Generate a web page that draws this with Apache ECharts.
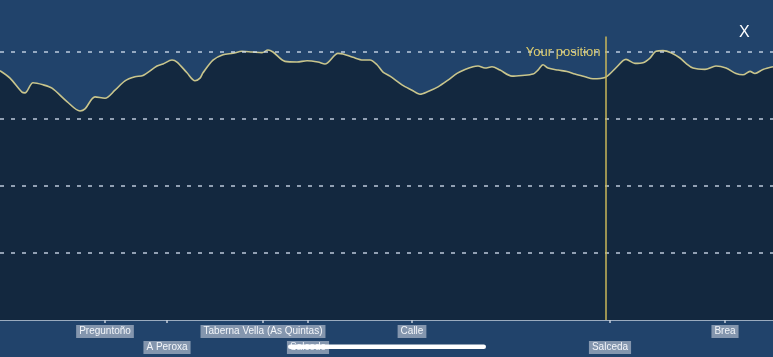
<!DOCTYPE html>
<html>
<head>
<meta charset="utf-8">
<script src="https://cdn.jsdelivr.net/npm/echarts@6/dist/echarts.min.js"></script>
<style>
html,body{margin:0;padding:0;background:#21436b;}
#c{width:773px;height:357px;}
</style>
</head>
<body>
<div id="c"></div>
<script>
// distance along route (km) and elevation (m)
const distances = [0, 1.0, 2.2, 2.5, 3.3, 4.3, 5.2, 6.7, 8.0, 8.5, 9.5, 10.5, 11.5, 12.5, 13.5, 14.3, 15.7, 16.3, 17.2, 17.7, 18.7, 19.5, 20.0, 20.3, 21.3, 22.3, 23.3, 24.2, 25.2, 26.2, 26.8, 27.3, 28.5, 29.7, 30.7, 31.8, 32.5, 33.8, 34.3, 35.3, 36.3, 37.0, 37.7, 38.3, 39.0, 40.2, 41.2, 42.0, 42.8, 43.8, 44.8, 45.7, 46.5, 47.3, 47.8, 48.5, 49.2, 50.0, 51.2, 52.2, 53.3, 53.8, 54.3, 54.8, 55.8, 56.7, 57.5, 58.5, 59.3, 60.5, 61.3, 62.3, 62.6, 63.5, 64.3, 65.0, 65.6, 66.3, 67.1, 68.0, 68.6, 69.3, 70.5, 71.6, 72.6, 73.6, 74.3, 75.0, 75.5, 76.3, 77.3];
const elevations = [372, 361, 340, 339, 354, 351, 346, 326, 312, 315, 333, 331, 343, 357, 363, 365, 379, 382, 388, 385, 369, 357, 361, 369, 388, 396, 398, 401, 400, 399, 403, 400, 386, 385, 387, 385, 382, 398, 397, 392, 388, 388, 381, 370, 364, 351, 343, 337, 341, 348, 358, 368, 374, 378, 379, 376, 378, 373, 364, 365, 367, 373, 381, 376, 373, 371, 367, 363, 360, 362, 372, 387, 389, 383, 384, 391, 401, 402, 399, 391, 383, 376, 374, 379, 376, 368, 366, 371, 368, 374, 378];
const placeNames = ['Preguntoño', 'A Peroxa', 'Taberna Vella (As Quintas)', 'Salcedo', 'Calle', 'Salceda', 'Brea'];
const placeDistances = [10.5, 16.7, 26.3, 30.8, 41.2, 61.0, 72.5];
const gridLevels = [100, 200, 300, 400];
const positionDistance = 60.55;
const positionTop = 423;
const positionLabel = 'Your position';

const row1 = placeDistances.filter((d, i) => i % 2 === 0);
const row2 = placeDistances.filter((d, i) => i % 2 === 1);
const nameAt = v => {
  let best = 0;
  placeDistances.forEach((d, i) => { if (Math.abs(d - v) < Math.abs(placeDistances[best] - v)) best = i; });
  return placeNames[best];
};
const font = "'Liberation Sans', Arial, sans-serif";
const labelBase = {
  formatter: v => nameAt(v),
  color: '#f2f5f9',
  fontSize: 10,
  fontFamily: font,
  backgroundColor: 'rgba(160,174,194,0.78)',
  padding: [1, 3, 1, 3],
  lineHeight: 11
};

const gridLineData = gridLevels.map(v => ({
  yAxis: v,
  lineStyle: {color: 'rgba(205,218,234,0.9)', width: 1.5, type: [4, 7]}
}));

const chart = echarts.init(document.getElementById('c'), null, {renderer: 'canvas'});
chart.setOption({
  backgroundColor: '#21436b',
  animation: false,
  grid: {left: 0, right: 0, top: 0, bottom: 37, containLabel: false},
  xAxis: [{
    type: 'value', min: 0, max: 77.3, position: 'bottom',
    axisLine: {show: true, lineStyle: {color: '#c3cedb', width: 1.5}},
    axisTick: {show: true, customValues: placeDistances, length: 3, lineStyle: {color: '#c3cedb', width: 1.5}},
    axisLabel: Object.assign({customValues: row1, margin: 5}, labelBase),
    splitLine: {show: false}
  }, {
    type: 'value', min: 0, max: 77.3, position: 'bottom',
    axisLine: {show: false}, axisTick: {show: false},
    axisLabel: Object.assign({customValues: row2, margin: 21}, labelBase),
    splitLine: {show: false}
  }],
  yAxis: {
    type: 'value', min: 0, max: 477.6,
    axisLine: {show: false}, axisTick: {show: false}, axisLabel: {show: false},
    splitLine: {show: false}
  },
  series: [{
    type: 'line',
    xAxisIndex: 0,
    data: distances.map((d, i) => [d, elevations[i]]),
    symbol: 'none',
    smooth: 0.3,
    lineStyle: {color: '#c9c58c', width: 1.6},
    areaStyle: {color: '#13283f', opacity: 1},
    z: 3,
    markLine: {
      silent: true, symbol: 'none', animation: false,
      label: {show: false},
      data: gridLineData.concat([[
        {coord: [positionDistance, 0], lineStyle: {color: '#c8b65a', width: 1.5, type: 'solid'}},
        {coord: [positionDistance, positionTop]}
      ]])
    },
    markPoint: {
      silent: true, symbol: 'circle', symbolSize: 0,
      label: {show: true, position: 'left', distance: 5, formatter: positionLabel, color: '#dccb6c', fontSize: 13, fontFamily: font},
      data: [{coord: [positionDistance, 400]}]
    }
  }],
  graphic: [{
    type: 'text', left: 739, top: 25,
    style: {text: 'X', fill: '#ffffff', font: "16px 'Liberation Sans', Arial, sans-serif"}
  }, {
    type: 'rect', z: 100,
    shape: {x: 288, y: 344.5, width: 198, height: 4.5, r: 2.25},
    style: {fill: '#ffffff'}
  }]
});
</script>
</body>
</html>
